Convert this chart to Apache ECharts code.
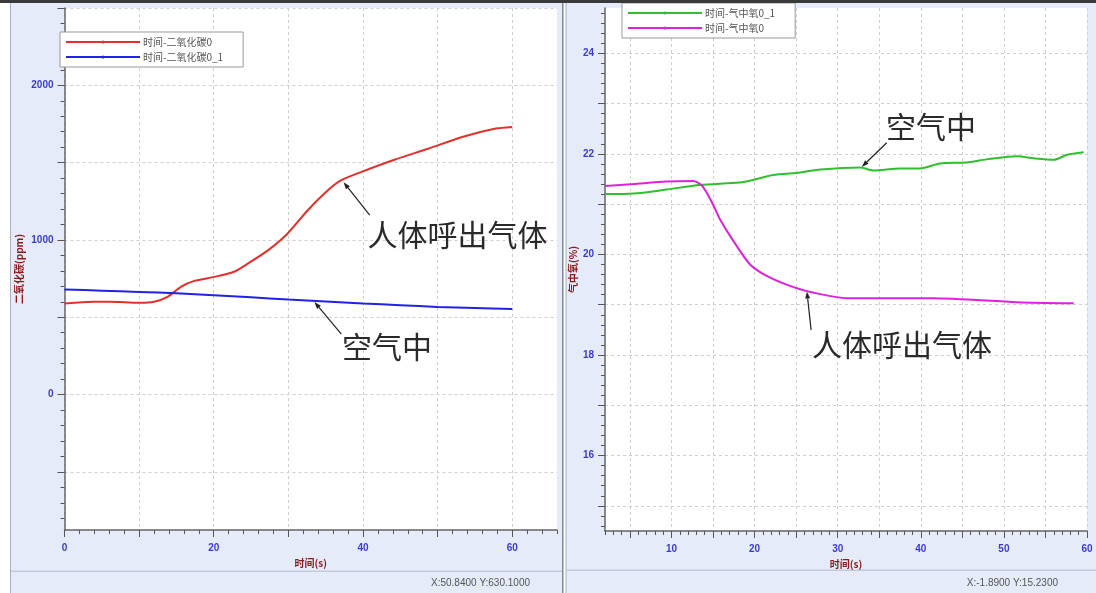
<!DOCTYPE html>
<html><head><meta charset="utf-8">
<script src="https://cdn.jsdelivr.net/npm/echarts@6/dist/echarts.min.js"></script>
<style>html,body{margin:0;padding:0;background:#fff}#c{width:1096px;height:593px}</style>
</head><body><div id="c"></div>
<script>
// ---------- data ----------
const co2BreathName = '时间-二氧化碳0';
const co2AirName = '时间-二氧化碳0_1';
const o2AirName = '时间-气中氧0_1';
const o2BreathName = '时间-气中氧0';

const co2Breath = [[0,589],[3.9,600],[6,600],[8,597],[10.2,593],[12,600],[13.8,632],[15.6,697],[17.4,735],[20.1,761],[22.7,794],[24.6,848],[27.3,934],[29.9,1042],[32.6,1192],[35.3,1321],[37.1,1386],[39.8,1440],[44.3,1520],[48.8,1591],[53.3,1666],[57.8,1720],[60,1731]];
const co2Air = [[0,680],[5,672],[10,664],[15,655],[20,643],[25,629],[30,615],[35,602],[40,589],[45,578],[50,567],[55,560],[60,553]];
const o2Air = [[2,21.2],[5.4,21.21],[9.4,21.29],[13.4,21.38],[18.2,21.43],[19.8,21.48],[22.2,21.58],[25.5,21.63],[27.9,21.69],[32.7,21.73],[34.3,21.67],[37.5,21.71],[39.9,21.71],[42.3,21.81],[45.5,21.83],[47.9,21.89],[51.6,21.95],[53.6,21.91],[56,21.88],[57.6,21.98],[59.6,22.03]];
const o2Breath = [[2,21.36],[5.4,21.4],[9.4,21.45],[12.6,21.46],[13.6,21.38],[14.4,21.18],[15.2,20.92],[15.9,20.68],[17.4,20.28],[19.4,19.81],[21.4,19.58],[24.7,19.35],[27.9,19.21],[31.1,19.13],[41.5,19.13],[51.6,19.05],[58.4,19.03]];

const leftXLabels = [0,20,40,60];
const leftYLabels = [0,1000,2000];
const rightXLabels = [10,20,30,40,50,60];
const rightYLabels = [16,18,20,22,24];

const leftXRange = [0,66];
const leftYRange = [-876,2500];
const rightXRange = [2,60];
const rightYRange = [14.5,24.9];

const leftStatus = 'X:50.8400 Y:630.1000';
const rightStatus = 'X:-1.8900 Y:15.2300';
const annBreath = '人体呼出气体';
const annAir = '空气中';

// annotation anchors in data space: [tip, tail, textPos]
const annotations = [
  {grid:0, text:annBreath, tip:[37.4,1373], tail:[40.9,1160], pos:[40.6,1037]},
  {grid:0, text:annAir, tip:[33.5,598], tail:[37.1,391], pos:[37.2,307]},
  {grid:1, text:annAir, tip:[32.9,21.74], tail:[35.9,22.22], pos:[35.8,22.54]},
  {grid:1, text:annBreath, tip:[26.3,19.26], tail:[26.8,18.5], pos:[26.9,18.2]}
];

function steps(a,b,s){const r=[];for(let v=a;v<=b+1e-9;v+=s)r.push(Math.round(v*100)/100);return r;}
const leftXMajor = steps(0,60,10), leftXMinor = steps(0,66,2);
const leftYMajor = steps(-500,2500,500), leftYMinor = steps(-800,2500,100);
const rightXMajor = steps(5,60,5), rightXMinor = steps(2,60,1);
const rightYMajor = steps(15,24,1), rightYMinor = steps(14.6,24.8,0.2);

// ---------- styles ----------
const panelBg = '#e5ebf8';
const labelColor = '#3b3bd0';
const nameColor = '#8b1a1a';
const axisColor = '#666';
const gridLine = {show:true, lineStyle:{color:'#cfcfcf', type:[3,3], width:1}};
const plain = v => String(v);

function mainX(gi, range, major, labels, nameGap){
  return {type:'value', gridIndex:gi, min:range[0], max:range[1], position:'bottom',
    name:'时间(s)', nameLocation:'middle', nameGap:nameGap,
    nameTextStyle:{color:nameColor, fontSize:10, fontWeight:'bold', fontFamily:'Noto Sans CJK SC'},
    axisLine:{show:true, onZero:false, lineStyle:{color:axisColor, width:1.5}},
    axisTick:{show:true, length:7, customValues:major, lineStyle:{color:'#555'}},
    axisLabel:{show:true, customValues:labels, formatter:plain, color:labelColor, fontSize:10, fontWeight:'bold', margin:13, fontFamily:'Liberation Sans'},
    splitLine:gridLine};
}
function minorX(gi, range, minor){
  return {type:'value', gridIndex:gi, min:range[0], max:range[1], position:'bottom',
    axisLine:{show:false, onZero:false}, axisTick:{show:true, length:4, customValues:minor, lineStyle:{color:'#555'}},
    axisLabel:{show:false}, splitLine:{show:false}};
}
function mainY(gi, range, major, labels, name, nameGap){
  return {type:'value', gridIndex:gi, min:range[0], max:range[1], position:'left',
    name:name, nameLocation:'middle', nameGap:nameGap, nameRotate:90,
    nameTextStyle:{color:nameColor, fontSize:10, fontWeight:'bold', fontFamily:'Noto Sans CJK SC'},
    axisLine:{show:true, onZero:false, lineStyle:{color:axisColor, width:1.5}},
    axisTick:{show:true, length:7, customValues:major, lineStyle:{color:'#555'}},
    axisLabel:{show:true, customValues:labels, formatter:plain, color:labelColor, fontSize:10, fontWeight:'bold', margin:11, fontFamily:'Liberation Sans'},
    splitLine:gridLine};
}
function minorY(gi, range, minor){
  return {type:'value', gridIndex:gi, min:range[0], max:range[1], position:'left',
    axisLine:{show:false, onZero:false}, axisTick:{show:true, length:4, customValues:minor, lineStyle:{color:'#555'}},
    axisLabel:{show:false}, splitLine:{show:false}};
}
function line(name, data, color, xi, yi){
  return {type:'line', name:name, data:data, xAxisIndex:xi, yAxisIndex:yi,
    showSymbol:false, symbol:'circle', symbolSize:2, smooth:0.25,
    lineStyle:{color:color, width:2}, itemStyle:{color:color}, silent:true, z:3};
}
function legend(left, top, names){
  return {show:true, orient:'vertical', left:left, top:top, data:names,
    itemWidth:74, itemHeight:4, itemGap:5, padding:[5,20,5,5],
    backgroundColor:'#fff', borderColor:'#999', borderWidth:1, borderRadius:0,
    selectedMode:false, textStyle:{fontSize:10, color:'#555', fontFamily:'Noto Sans CJK SC', padding:[0,0,0,-2]}};
}

const chrome = [
  {id:'bgL', type:'rect', z:-100, shape:{x:10,y:0,width:553,height:593}, style:{fill:panelBg}},
  {id:'bgR', type:'rect', z:-100, shape:{x:566,y:0,width:530,height:593}, style:{fill:panelBg}},
  {id:'topbar', type:'rect', z:100, shape:{x:0,y:0,width:1096,height:3}, style:{fill:'#3a3a3a'}},
  {id:'borderL', type:'rect', z:-99, shape:{x:10,y:0,width:1,height:593}, style:{fill:'#a8b0c0'}},
  {id:'div1', type:'rect', z:-99, shape:{x:562,y:0,width:1.5,height:593}, style:{fill:'#7d889c'}},
  {id:'div2', type:'rect', z:-99, shape:{x:565.5,y:0,width:1,height:593}, style:{fill:'#a8b0c0'}},
  {id:'sepL', type:'rect', z:-99, shape:{x:11,y:570.5,width:551,height:1.5}, style:{fill:'#c2c9d8'}},
  {id:'sepR', type:'rect', z:-99, shape:{x:567,y:569.5,width:529,height:1.5}, style:{fill:'#c2c9d8'}},
  {id:'stL', type:'text', z:100, x:530, y:583, style:{text:leftStatus, fill:'#555', font:'10px "Liberation Sans"', align:'right', verticalAlign:'middle'}},
  {id:'stR', type:'text', z:100, x:1058, y:583, style:{text:rightStatus, fill:'#555', font:'10px "Liberation Sans"', align:'right', verticalAlign:'middle'}}
];

const chart = echarts.init(document.getElementById('c'), null, {renderer:'canvas'});
const option = {
  animation:false,
  backgroundColor:'#fff',
  grid:[
    {left:64.5, top:8, width:492.5, height:522, show:true, backgroundColor:'#fff', borderWidth:0, containLabel:false},
    {left:605, top:8, width:482, height:523, show:true, backgroundColor:'#fff', borderWidth:0, containLabel:false}
  ],
  xAxis:[
    mainX(0, leftXRange, leftXMajor, leftXLabels, 28),
    minorX(0, leftXRange, leftXMinor),
    mainX(1, rightXRange, rightXMajor, rightXLabels, 27),
    minorX(1, rightXRange, rightXMinor)
  ],
  yAxis:[
    mainY(0, leftYRange, leftYMajor, leftYLabels, '二氧化碳(ppm)', 40),
    minorY(0, leftYRange, leftYMinor),
    mainY(1, rightYRange, rightYMajor, rightYLabels, '气中氧(%)', 27),
    minorY(1, rightYRange, rightYMinor)
  ],
  legend:[
    legend(60, 32, [co2BreathName, co2AirName]),
    legend(622, 3, [o2AirName, o2BreathName])
  ],
  series:[
    line(co2BreathName, co2Breath, '#e2302b', 0, 0),
    line(co2AirName, co2Air, '#2222e6', 0, 0),
    line(o2AirName, o2Air, '#2fbf2f', 2, 2),
    line(o2BreathName, o2Breath, '#dd22dd', 2, 2)
  ],
  graphic: chrome
};
chart.setOption(option);

// annotations: arrows + text positioned through the chart's own scales
const ann = [];
annotations.forEach((a, i) => {
  const tip = chart.convertToPixel({gridIndex:a.grid}, a.tip);
  const tail = chart.convertToPixel({gridIndex:a.grid}, a.tail);
  const pos = chart.convertToPixel({gridIndex:a.grid}, a.pos);
  const dx = tip[0]-tail[0], dy = tip[1]-tail[1];
  const len = Math.hypot(dx,dy), ux = dx/len, uy = dy/len;
  const ah = 7, aw = 2.5;
  const bx = tip[0]-ux*ah, by = tip[1]-uy*ah;
  ann.push({id:'al'+i, type:'line', z:50, shape:{x1:tail[0],y1:tail[1],x2:bx,y2:by}, style:{stroke:'#222', lineWidth:1.2}});
  ann.push({id:'ah'+i, type:'polygon', z:50, shape:{points:[[tip[0],tip[1]],[bx-uy*aw,by+ux*aw],[bx+uy*aw,by-ux*aw]]}, style:{fill:'#222'}});
  ann.push({id:'at'+i, type:'text', z:50, x:pos[0], y:pos[1], style:{text:a.text, fill:'#2a2a2a', font:'30px "Noto Sans CJK SC"', align:'left', verticalAlign:'middle'}});
});
chart.setOption({graphic: chrome.concat(ann)});
</script>
</body></html>
